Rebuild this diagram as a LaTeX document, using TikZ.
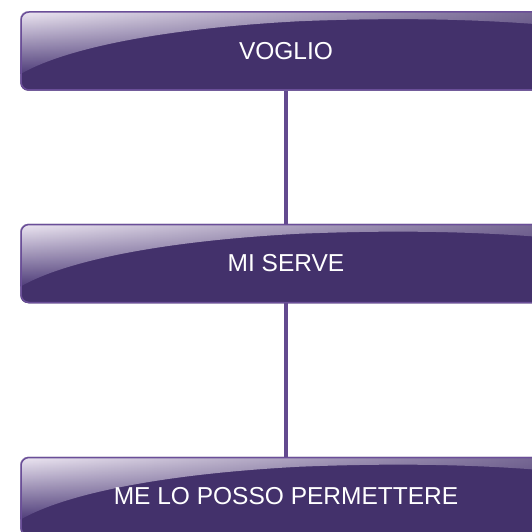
\documentclass[tikz,border=0pt]{standalone}
\usepackage{fontspec}
\setmainfont{Liberation Sans}
\usetikzlibrary{fadings,backgrounds}
\definecolor{boxfill}{HTML}{43316B}
\definecolor{boxedge}{HTML}{6A4E98}
\definecolor{linkcol}{HTML}{634A8F}
\definecolor{glosstop}{HTML}{EEE8F3}
\definecolor{glossbot}{HTML}{4E3C79}
\tikzfading[name=glossfade, left color=transparent!0, right color=transparent!72]
\tikzset{
  glossbox/.style={rectangle, draw=boxedge, line width=1.5pt, rounded corners=8pt,
    minimum width=530pt, minimum height=78pt, inner sep=0pt,
    text=white, font=\fontsize{24.5}{29}\selectfont},
  glossfill/.style={top color=glosstop, bottom color=glossbot, path fading=glossfade},
  link/.style={draw=linkcol, line width=3.2pt}
}
\newcommand\glossunder[1]{%
  \fill[boxfill, rounded corners=8pt] (#1.south west) rectangle (#1.north east);
  \begin{scope}
    \clip[rounded corners=8pt] (#1.south west) rectangle (#1.north east);
    \begin{scope}[shift={(#1.north west)}]
      \shade[glossfill]
        (0,0) -- (0,-63) .. controls (39,-40) and (129,-18) .. (279,-10)
        .. controls (379,-6) and (459,-8) .. (530,-14) -- (530,0) -- cycle;
    \end{scope}
  \end{scope}}
\begin{document}
\begin{tikzpicture}[x=1pt,y=1pt]
  \useasboundingbox (0,0) rectangle (532,531);
  \clip (0,0) rectangle (532,531);
  \node[glossbox] (b1) at (286,480) {VOGLIO};
  \node[glossbox] (b2) at (286,267.5) {MI SERVE};
  \node[glossbox] (b3) at (286,34.5) {ME LO POSSO PERMETTERE};
  \begin{scope}[on background layer]
    \glossunder{b1}
    \glossunder{b2}
    \glossunder{b3}
  \end{scope}
  \draw[link] (b1.south) -- (b2.north);
  \draw[link] (b2.south) -- (b3.north);
\end{tikzpicture}
\end{document}
